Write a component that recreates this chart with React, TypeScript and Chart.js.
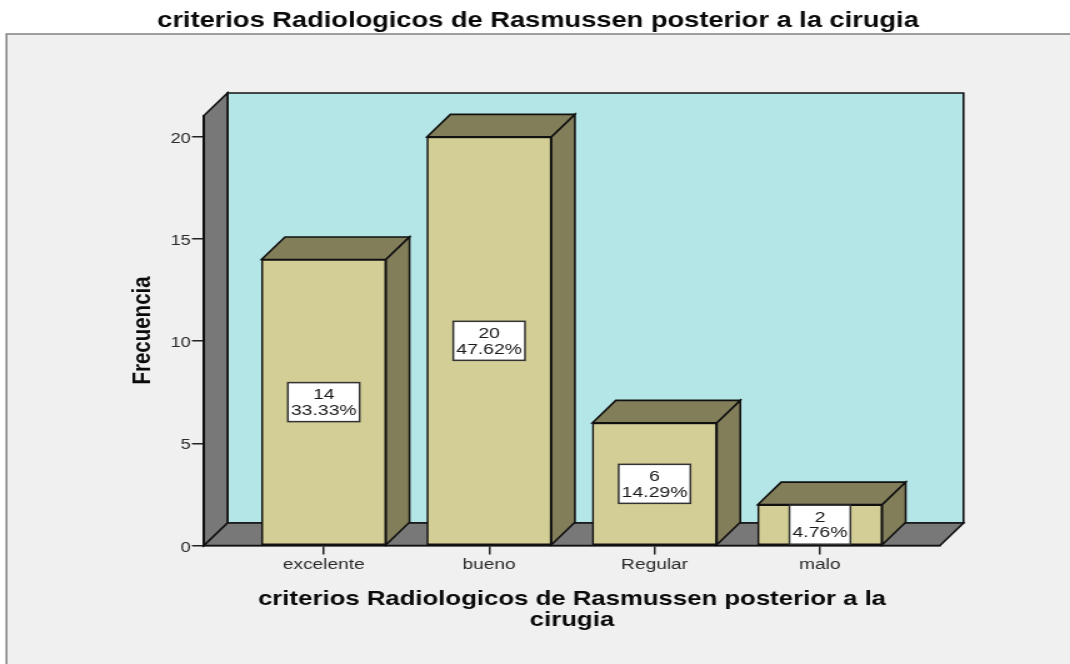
import React, { useEffect, useRef } from "react";
import { Chart, registerables } from "chart.js";

Chart.register(...registerables);

const categories = ["excelente", "bueno", "Regular", "malo"];
const frequencies = [14, 20, 6, 2];
const percents = ["33.33%", "47.62%", "14.29%", "4.76%"];
const yTicksStep = 5;
const chartTitle = "criterios Radiologicos de Rasmussen posterior a la cirugia";
const xTitle = ["criterios Radiologicos de Rasmussen posterior a la", "cirugia"];
const yTitle = "Frecuencia";

// The reference is a picture stretched sideways: the canvas is drawn narrower and widened by CSS.
const STRETCH = 1.25;
const W = 1070 / STRETCH;
const H = 664;
const sx = (px: number) => px / STRETCH;
const FONT = "'Liberation Sans', Arial, sans-serif";
const DEPTH_X = sx(23.5);
const DEPTH_Y = 22.5;

const poly = (ctx: any, pts: number[][], fill: string) => {
  ctx.beginPath();
  pts.forEach((p, i) => (i ? ctx.lineTo(p[0], p[1]) : ctx.moveTo(p[0], p[1])));
  ctx.closePath();
  ctx.fillStyle = fill;
  ctx.fill();
  ctx.strokeStyle = "#111";
  ctx.lineWidth = 1.6;
  ctx.stroke();
};

const threeD = {
  id: "threeD",
  beforeDraw(chart: any) {
    const { ctx, chartArea: a } = chart;
    ctx.save();
    ctx.fillStyle = "#ffffff";
    ctx.fillRect(0, 0, chart.width, chart.height);
    ctx.fillStyle = "#f0f0f0";
    ctx.strokeStyle = "#808080";
    ctx.lineWidth = 1.5;
    ctx.fillRect(sx(6.5), 34, chart.width + 10, chart.height);
    ctx.strokeRect(sx(6.5), 34, chart.width + 10, chart.height);
    const top = a.top;
    const b = a.bottom;
    // back wall, left wall, floor
    poly(ctx, [[a.left + DEPTH_X, top - DEPTH_Y], [a.right + DEPTH_X, top - DEPTH_Y], [a.right + DEPTH_X, b - DEPTH_Y], [a.left + DEPTH_X, b - DEPTH_Y]], "#b5e6e7");
    poly(ctx, [[a.left, top], [a.left + DEPTH_X, top - DEPTH_Y], [a.left + DEPTH_X, b - DEPTH_Y], [a.left, b]], "#787878");
    poly(ctx, [[a.left, b], [a.left + DEPTH_X, b - DEPTH_Y], [a.right + DEPTH_X, b - DEPTH_Y], [a.right, b]], "#787878");
    ctx.restore();
  },
  beforeDatasetsDraw(chart: any) {
    const { ctx } = chart;
    ctx.save();
    chart.getDatasetMeta(0).data.forEach((bar: any) => {
      const { x, y, base, width } = bar.getProps(["x", "y", "base", "width"], true);
      const l = x - width / 2;
      const r = x + width / 2;
      poly(ctx, [[l, y], [l + DEPTH_X, y - DEPTH_Y], [r + DEPTH_X, y - DEPTH_Y], [r, y]], "#827e5a");
      poly(ctx, [[r, y], [r + DEPTH_X, y - DEPTH_Y], [r + DEPTH_X, base - DEPTH_Y], [r, base]], "#827e5a");
    });
    ctx.restore();
  },
  afterDatasetsDraw(chart: any) {
    const { ctx } = chart;
    ctx.save();
    ctx.font = `15.5px ${FONT}`;
    ctx.textAlign = "center";
    ctx.textBaseline = "middle";
    chart.getDatasetMeta(0).data.forEach((bar: any, i: number) => {
      const { x, y, base } = bar.getProps(["x", "y", "base"], true);
      const cy = (y + base) / 2;
      const tw = ctx.measureText(percents[i]).width;
      const w = tw + sx(6);
      const h = 39;
      ctx.fillStyle = "#fff";
      ctx.fillRect(x - w / 2, cy - h / 2, w, h);
      ctx.strokeStyle = "#333";
      ctx.lineWidth = 1.5;
      ctx.strokeRect(x - w / 2, cy - h / 2, w, h);
      ctx.fillStyle = "#1a1a1a";
      ctx.fillText(String(frequencies[i]), x, cy - 7);
      ctx.fillText(percents[i], x, cy + 8.5);
    });
    ctx.restore();
  },
};

export default function App() {
  const ref = useRef<HTMLCanvasElement>(null);
  useEffect(() => {
    const chart = new Chart(ref.current!, {
      type: "bar",
      data: {
        datasets: [
          {
            data: frequencies.map((v, i) => ({ x: i, y: v })),
            backgroundColor: "#d3ce95",
            borderColor: "#111",
            borderWidth: 1.6,
            borderSkipped: false,
            barThickness: sx(124.5),
          },
        ],
      },
      options: {
        responsive: false,
        animation: false,
        layout: { padding: { left: sx(6), right: 0 } },
        plugins: {
          legend: { display: false },
          tooltip: { enabled: false },
          title: {
            display: true,
            text: chartTitle,
            color: "#0a0a0a",
            font: { family: FONT, size: 21.8, weight: "bold" },
            padding: { top: 7.5, bottom: 81.8 },
          },
        },
        scales: {
          x: {
            type: "linear",
            offset: false,
            min: -0.724,
            max: 3.726,
            afterFit: (s: any) => { s.height = 118.5; },
            grid: { offset: false, drawOnChartArea: false, color: "#222", lineWidth: 1.5, tickLength: 9 },
            border: { color: "#111", width: 1.6 },
            ticks: {
              stepSize: 1,
              includeBounds: false,
              autoSkip: false,
              maxRotation: 0,
              padding: 1,
              color: "#2a2a2a",
              font: { family: FONT, size: 15.3 },
              callback: (v: any) => categories[v] ?? "",
            },
            title: {
              display: true,
              text: xTitle,
              color: "#0a0a0a",
              font: { family: FONT, size: 20.6, weight: "bold", lineHeight: 1.02 },
              padding: { top: 0, bottom: 33 },
            },
          },
          y: {
            type: "linear",
            min: 0,
            max: 21.05,
            afterFit: (s: any) => { s.width = sx(204) - sx(6); },
            grid: { drawOnChartArea: false, color: "#222", lineWidth: 1.5, tickLength: sx(12) },
            border: { color: "#111", width: 1.6 },
            ticks: {
              stepSize: yTicksStep,
              includeBounds: false,
              padding: 1,
              labelOffset: 2,
              color: "#2a2a2a",
              font: { family: FONT, size: 14.5 },
            },
            title: {
              display: true,
              text: yTitle,
              color: "#0a0a0a",
              font: { family: FONT, size: 20.5, weight: "bold" },
              padding: { top: sx(121), bottom: 0 },
            },
          },
          // empty right-hand margin, so that the main title stays centred on the whole picture
          margin: {
            type: "linear",
            axis: "y",
            position: "right",
            afterFit: (s: any) => { s.width = sx(130); },
            grid: { display: false },
            border: { display: false },
            ticks: { display: false },
          },
        },
      } as any,
      plugins: [threeD],
    });
    return () => chart.destroy();
  }, []);
  return (
    <canvas
      ref={ref}
      width={W}
      height={H}
      style={{
        position: "absolute",
        left: 0,
        top: 0,
        transform: `scaleX(${STRETCH})`,
        transformOrigin: "0 0",
      }}
    />
  );
}
